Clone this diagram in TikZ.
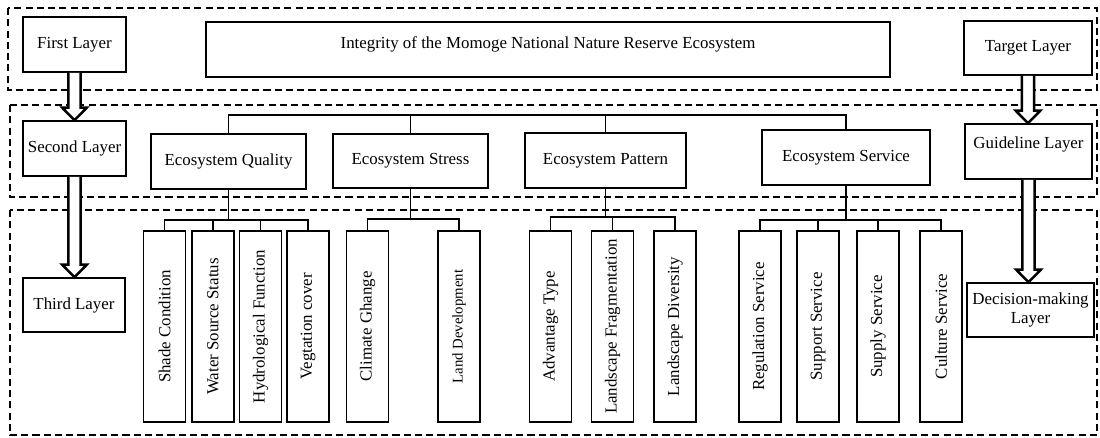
\documentclass[tikz,border=0pt]{standalone}
\usepackage{graphicx}
\usepackage{fontspec}
\setmainfont{Liberation Serif}
\usetikzlibrary{calc}
\tikzset{
  layerframe/.style={draw,line width=1pt,dash pattern=on 5pt off 3pt},
  box/.style 2 args={draw,line width=1.1pt,inner sep=1pt,align=center,fill=white,
    minimum width=#1*0.025cm,minimum height=#2*0.025cm,font=\fontsize{12}{14}\selectfont},
  leaf/.style={draw,line width=1.2pt,inner sep=1pt,fill=white,
    minimum width=42*0.025cm,minimum height=191*0.025cm,font=\fontsize{12}{14}\selectfont},
  link/.style={line width=.9pt},
  hollow/.style={draw,fill=white,line width=1.8pt,line join=miter},
}
\newcommand{\layerarrow}[2]{%
  \draw[hollow] let \p1=(#1.south), \p2=(#2.north) in
    (\x1-4.3pt,\y1) -- (\x1-4.3pt,\y2+9pt) -- (\x1-8.8pt,\y2+9pt) -- (\x1,\y2)
    -- (\x1+8.8pt,\y2+9pt) -- (\x1+4.3pt,\y2+9pt) -- (\x1+4.3pt,\y1);}

\begin{document}
\begin{tikzpicture}[x=0.025cm,y=0.025cm]
  \useasboundingbox (0,0) rectangle (1100,-437);
  \draw[layerframe] (8,-8) rectangle (1097,-90);
  \draw[layerframe] (10,-105) rectangle (1097,-197);
  \draw[layerframe] (10,-210) rectangle (1097,-435);

  \node[box={103}{55}] (first) at (74.5,-44.5) {First Layer};
  \node[box={684}{55},text depth=10pt] (integ) at (548,-49.5)
    {Integrity of the Momoge National Nature Reserve Ecosystem};
  \node[box={128}{54}] (target) at (1028,-48) {Target Layer};

  \node[box={103}{55}] (second) at (74.5,-148.5) {Second Layer};
  \node[box={155}{55}] (eq) at (228.5,-161.5) {Ecosystem Quality};
  \node[box={155}{54}] (es) at (410.5,-161) {Ecosystem Stress};
  \node[box={161}{55}] (ep) at (605.5,-160.5) {Ecosystem Pattern};
  \node[box={168}{55}] (esv) at (846,-157.5) {Ecosystem Service};
  \node[box={127}{55},text depth=12pt] (guide) at (1028.5,-151.5) {Guideline Layer};

  \node[box={102}{54}] (third) at (74,-305) {Third Layer};
  \node[box={127}{54}] (decis) at (1030.5,-310) {Decision-making\\Layer};

  \foreach \n/\x/\t in {shade/164.5/Shade Condition, water/213/Water Source Status,
      hydro/260.5/Hydrological Function, veg/308/Vegtation cover,
      climate/367.5/Climate Ghange, land/459/{\fontsize{10.5}{12}\selectfont Land Development},
      adv/550.5/Advantage Type, frag/612.5/Landscape Fragmentation,
      div/675/Landscape Diversity, reg/760/Regulation Service,
      supp/818/Support Service, suppl/878/Supply Service, cult/941/Culture Service}
    \node[leaf] (\n) at (\x,-326.5) {\rotatebox{90}{\t}};

  \foreach \p in {eq,es,ep,esv}
    \draw[link] (\p.north) |- (integ.south |- 0,-115);
  \foreach \k/\p/\y in {shade/eq/220, water/eq/220, hydro/eq/220, veg/eq/220,
      climate/es/219, land/es/219, adv/ep/217, frag/ep/217, div/ep/217,
      reg/esv/220, supp/esv/220, suppl/esv/220, cult/esv/220}
    \draw[link] (\k.north) |- (\p.south |- 0,-\y) -- (\p.south);

  \layerarrow{first}{second}
  \layerarrow{second}{third}
  \layerarrow{target}{guide}
  \layerarrow{guide}{decis}
\end{tikzpicture}
\end{document}
